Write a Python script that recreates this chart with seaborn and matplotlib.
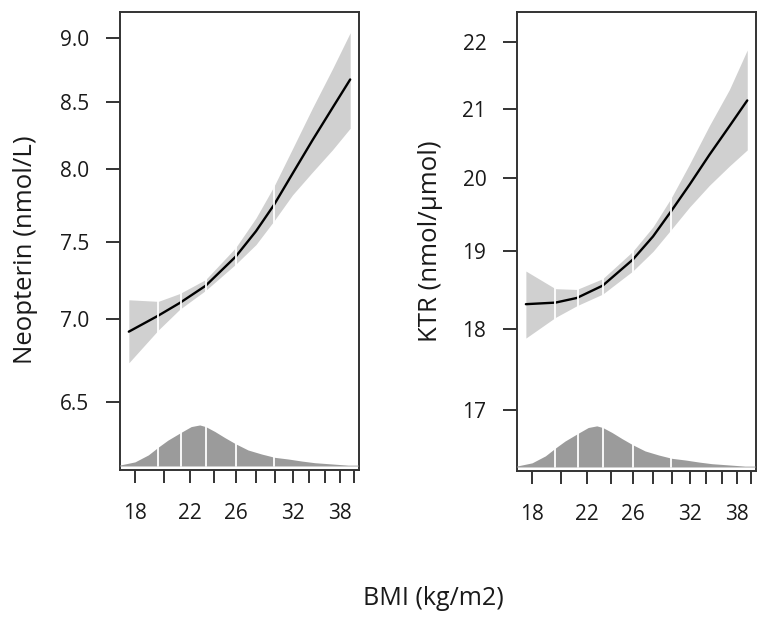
import matplotlib
matplotlib.use("Agg")
import matplotlib.pyplot as plt
from matplotlib.ticker import NullLocator
import seaborn as sns

# BMI grid of the spline fits (kg/m2)
bmi = [17.6, 19.6, 21.2, 23.3, 26.0, 28.0, 29.9, 32.0, 34.4, 37.0, 39.5]

# Neopterin fit with 95% band
neo_fit = [6.92, 7.02, 7.10, 7.21, 7.40, 7.57, 7.75, 7.97, 8.21, 8.45, 8.67]
neo_hi = [7.12, 7.11, 7.16, 7.25, 7.46, 7.66, 7.88, 8.15, 8.45, 8.75, 9.04]
neo_lo = [6.73, 6.93, 7.06, 7.18, 7.35, 7.48, 7.64, 7.82, 7.98, 8.14, 8.30]

# KTR fit with 95% band
ktr_fit = [18.31, 18.33, 18.39, 18.55, 18.89, 19.20, 19.54, 19.91, 20.33, 20.74, 21.12]
ktr_hi = [18.74, 18.51, 18.50, 18.64, 19.00, 19.33, 19.72, 20.20, 20.75, 21.28, 21.88]
ktr_lo = [17.88, 18.14, 18.29, 18.44, 18.74, 19.00, 19.29, 19.60, 19.90, 20.17, 20.40]

# BMI distribution (relative density) shown along the bottom
dens_bmi = [17.0, 18.0, 18.9, 19.6, 20.3, 21.3, 22.1, 22.8, 23.3, 24.1, 25.0,
            26.0, 27.2, 28.6, 30.0, 31.5, 33.1, 34.7, 36.9, 39.2, 40.7]
dens_val = [0.02, 0.10, 0.27, 0.46, 0.63, 0.82, 0.96, 1.00, 0.96, 0.84, 0.69,
            0.54, 0.39, 0.29, 0.21, 0.17, 0.12, 0.08, 0.05, 0.02, 0.02]

# BMI percentiles, marked with white lines
bmi_q = [19.6, 21.3, 23.3, 26.0, 29.9]

bmi_ticks = [18, 20, 22, 24, 26, 28, 30, 32, 34, 36, 38, 40]
bmi_labels = ["18", "", "22", "", "26", "", "", "32", "", "", "38", ""]

neo_ticks = [6.5, 7.0, 7.5, 8.0, 8.5, 9.0]
neo_labels = ["6.5", "7.0", "7.5", "8.0", "8.5", "9.0"]
ktr_ticks = [17, 18, 19, 20, 21, 22]
ktr_labels = ["17", "18", "19", "20", "21", "22"]

sns.set_theme(style="ticks")
plt.rcParams["font.family"] = ["Open Sans", "DejaVu Sans"]

BAND = "#d0d0d0"
DENS = "#9b9b9b"
EDGE = "#333333"
TXT = "#1a1a1a"

fig = plt.figure(figsize=(7.68, 6.25), dpi=100)

panels = [
    ([0.156, 0.248, 0.311, 0.733], "Neopterin (nmol/L)", neo_fit, neo_lo, neo_hi,
     neo_ticks, neo_labels, (6.115, 9.21), (-0.343, 0.48)),
    ([0.673, 0.2464, 0.311, 0.7344], "KTR (nmol/\u00b5mol)", ktr_fit, ktr_lo, ktr_hi,
     ktr_ticks, ktr_labels, (16.29, 22.47), (-0.31, 0.5)),
]

for rect, ylabel, fit, lo, hi, yt, ytl, ylim, lab_xy in panels:
    ax = fig.add_axes(rect)
    ax.set_xscale("log")
    ax.set_yscale("log")
    ax.fill_between(bmi, lo, hi, color=BAND, lw=0, zorder=1)
    sns.lineplot(x=bmi, y=fit, ax=ax, color="black", lw=1.7, zorder=2)

    ax.set_xlim(17.03, 40.74)
    ax.set_ylim(*ylim)
    ax.xaxis.set_minor_locator(NullLocator())
    ax.yaxis.set_minor_locator(NullLocator())
    ax.set_xticks(bmi_ticks)
    ax.set_xticklabels(bmi_labels)
    ax.set_yticks(yt)
    ax.set_yticklabels(ytl)
    ax.tick_params(axis="x", length=9.5, width=1.4, pad=14, labelsize=15,
                   color=EDGE, labelcolor=TXT)
    ax.tick_params(axis="y", length=10, width=1.4, pad=12, labelsize=15,
                   color=EDGE, labelcolor=TXT)
    for s in ax.spines.values():
        s.set_color(EDGE)
        s.set_linewidth(1.4)
    ax.set_ylabel(ylabel, fontsize=18.5, color=TXT)
    ax.yaxis.set_label_coords(*lab_xy)

    # density of BMI on its own scale, sharing the BMI axis
    ax2 = ax.twinx()
    ax2.fill_between(dens_bmi, 0, dens_val, color=DENS, lw=0, zorder=1)
    ax2.set_ylim(-0.098, 11.07)
    ax2.set_yticks([])
    for s in ax2.spines.values():
        s.set_visible(False)
    for q in bmi_q:
        ax2.axvline(q, ymin=0.008, ymax=0.992, color="white", lw=1.3, zorder=3)

fig.text(0.564, 0.042, "BMI (kg/m2)", ha="center", va="center",
         fontsize=18, color=TXT)

fig.savefig("out.png", dpi=100)
